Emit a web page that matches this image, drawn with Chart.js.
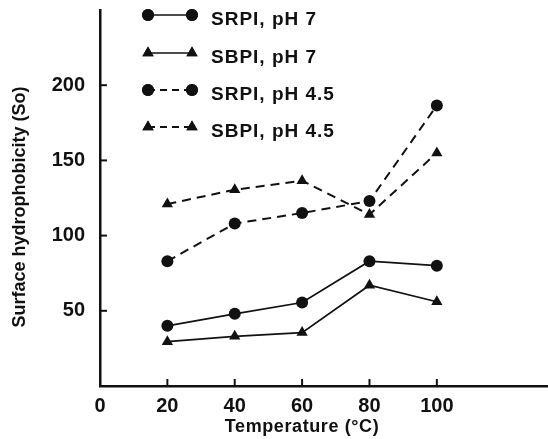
<!DOCTYPE html>
<html>
<head>
<meta charset="utf-8">
<script src="https://cdn.jsdelivr.net/npm/chart.js@4.4.0/dist/chart.umd.min.js"></script>
<style>
  html, body { margin: 0; padding: 0; background: #fff; }
  #wrap { width: 548px; height: 439px; }
</style>
</head>
<body>
<div id="wrap"><canvas id="chart" width="548" height="439"></canvas></div>
<script>
// 数据
const temperatures = [20, 40, 60, 80, 100]
const srpiPh7 = [40, 48, 55.5, 83, 80]
const sbpiPh7 = [29.5, 33, 35.5, 67, 56]
const srpiPh45 = [83, 108, 115, 123, 186.5]
const sbpiPh45 = [121, 130.5, 136.5, 114, 155]
const xTickValues = [0, 20, 40, 60, 80, 100]
const yTickValues = [50, 100, 150, 200]
const seriesLabels = ['SRPI, pH 7', 'SBPI, pH 7', 'SRPI, pH 4.5', 'SBPI, pH 4.5']

const ink = '#111'
const fontFamily = '"Liberation Sans", Arial, Helvetica, sans-serif'

function toPoints(values) {
  return temperatures.map((t, i) => ({ x: t, y: values[i] }))
}

function makeSeries(label, values, style, dashed) {
  return {
    label: label,
    data: toPoints(values),
    borderColor: ink,
    backgroundColor: ink,
    borderWidth: dashed ? 2 : 1.7,
    borderDash: dashed ? [9, 6] : [],
    pointStyle: style,
    pointRadius: style === 'triangle' ? 6.5 : 6,
    pointBorderWidth: 0,
    tension: 0,
    fill: false
  }
}

// 自定义图例、坐标轴标题和内侧刻度
const decorPlugin = {
  id: 'decor',
  afterDraw(chart) {
    const ctx = chart.ctx
    const xs = chart.scales.x
    const ys = chart.scales.y
    const area = chart.chartArea
    ctx.save()
    ctx.strokeStyle = ink
    ctx.fillStyle = ink
    ctx.lineWidth = 2

    // 内侧刻度
    yTickValues.forEach(v => {
      const py = ys.getPixelForValue(v)
      ctx.beginPath()
      ctx.moveTo(area.left, py)
      ctx.lineTo(area.left + 7, py)
      ctx.stroke()
    })
    xTickValues.slice(1).forEach(v => {
      const px = xs.getPixelForValue(v)
      ctx.beginPath()
      ctx.moveTo(px, area.bottom)
      ctx.lineTo(px, area.bottom - 7)
      ctx.stroke()
    })

    // 图例
    const rowY = [15, 53, 90, 127]
    chart.data.datasets.forEach((ds, i) => {
      const y = rowY[i]
      ctx.lineWidth = ds.borderWidth
      ctx.setLineDash(ds.borderDash.length ? [7, 5] : [])
      ctx.beginPath()
      ctx.moveTo(148, y)
      ctx.lineTo(192, y)
      ctx.stroke()
      ctx.setLineDash([])
      ;[148, 192].forEach(px => {
        Chart.helpers.drawPoint(ctx, { pointStyle: ds.pointStyle, radius: ds.pointRadius, borderWidth: 0 }, px, y)
        ctx.fill()
      })
      ctx.font = 'bold 19px ' + fontFamily
      ctx.letterSpacing = '1px'
      ctx.textAlign = 'left'
      ctx.textBaseline = 'middle'
      ctx.fillText(seriesLabels[i], 211, y + 5)
    })

    // 坐标轴标题
    ctx.font = 'bold 18px ' + fontFamily
    ctx.letterSpacing = '0.6px'
    ctx.textAlign = 'center'
    ctx.textBaseline = 'middle'
    ctx.fillText('Temperature (°C)', 302, 427)
    ctx.translate(20, 207)
    ctx.rotate(-Math.PI / 2)
    ctx.letterSpacing = '0px'
    ctx.fillText('Surface hydrophobicity (So)', 0, 0)
    ctx.restore()
  }
}

const chart = new Chart(document.getElementById('chart'), {
  type: 'line',
  data: {
    datasets: [
      makeSeries(seriesLabels[0], srpiPh7, 'circle', false),
      makeSeries(seriesLabels[1], sbpiPh7, 'triangle', false),
      makeSeries(seriesLabels[2], srpiPh45, 'circle', true),
      makeSeries(seriesLabels[3], sbpiPh45, 'triangle', true)
    ]
  },
  options: {
    responsive: false,
    animation: false,
    layout: { autoPadding: false, padding: { top: 10, right: 0, left: 0, bottom: 0 } },
    plugins: {
      legend: { display: false },
      tooltip: { enabled: false }
    },
    scales: {
      x: {
        type: 'linear',
        min: 0,
        max: 133,
        afterBuildTicks: scale => { scale.ticks = xTickValues.map(v => ({ value: v })) },
        afterFit: scale => {
          scale.height = 53
          scale.paddingLeft = 0
          scale.paddingRight = 0
        },
        grid: { display: false, drawTicks: false },
        border: { display: true, color: ink, width: 2.5 },
        ticks: {
          color: ink,
          padding: 8,
          maxRotation: 0,
          font: { family: fontFamily, size: 20, weight: 'bold' }
        }
      },
      y: {
        min: 0,
        max: 250,
        afterBuildTicks: scale => { scale.ticks = yTickValues.map(v => ({ value: v })) },
        afterFit: scale => {
          scale.width = 100
          scale.paddingTop = 0
          scale.paddingBottom = 0
        },
        grid: { display: false, drawTicks: false },
        border: { display: true, color: ink, width: 2.5 },
        ticks: {
          color: ink,
          padding: 15,
          font: { family: fontFamily, size: 20, weight: 'bold' }
        }
      }
    }
  },
  plugins: [decorPlugin]
})
</script>
</body>
</html>
